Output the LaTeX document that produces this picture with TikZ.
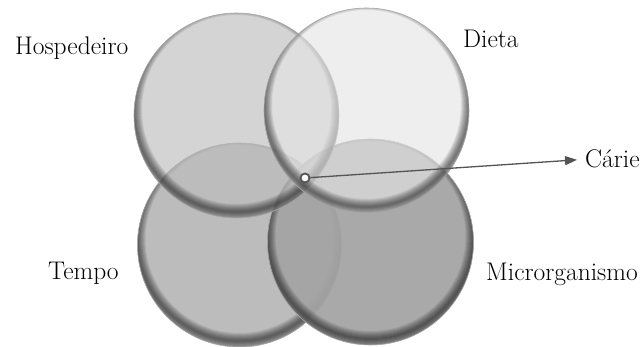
\documentclass[tikz,border=0pt]{standalone}
\usetikzlibrary{arrows.meta,calc}
\definecolor{cTL}{gray}{0.74}
\definecolor{cTR}{gray}{0.90}
\definecolor{cBL}{gray}{0.72}
\definecolor{cBR}{gray}{0.645}
\definecolor{arrowgray}{gray}{0.33}
\newcommand\glassdisc[6]{%
  \coordinate (#1) at (#2,#3);
  \fill[#5, opacity=#6] (#1) circle (#4pt);
  \begin{scope}
    \clip (#1) circle (#4pt);
    \foreach \w in {2,4,...,16}
      \draw[black, opacity=0.08, line width=\w pt] ($(#1)+(0,-6)$) circle (#4pt);
  \end{scope}
  \draw[gray!70, line width=0.6pt] (#1) circle (#4pt);
}
\tikzset{
  lbl/.style={font=\fontsize{25.5}{30}\selectfont, inner sep=0pt, anchor=base west},
}
\begin{document}
\begin{tikzpicture}[x=1pt,y=-1pt]
\useasboundingbox[fill=white] (0,0) rectangle (643,347);
\glassdisc{BL}{239.5}{245}{102}{cBL}{0.94}
\glassdisc{BR}{370.5}{242}{103}{cBR}{0.94}
\glassdisc{TL}{236.5}{115.5}{102.5}{cTL}{0.65}
\glassdisc{TR}{366.5}{110.5}{102.5}{cTR}{0.64}
\node[lbl] (hosp) at (15,55) {Hospedeiro};
\node[lbl] (dieta) at (463,48) {Dieta};
\node[lbl] (tempo) at (48,280) {Tempo};
\node[lbl] (micro) at (486,281) {Microrganismo};
\node[lbl] (carie) at (585,168) {Cárie};
\node[circle, draw=arrowgray, line width=1.8pt, fill=white, minimum size=9pt, inner sep=0pt] (dot) at (305,178) {};
\draw[-{Triangle[length=12pt,width=9pt]}, line width=1.3pt, arrowgray, shorten >=8pt] (dot) -- (carie.west);
\end{tikzpicture}
\end{document}
